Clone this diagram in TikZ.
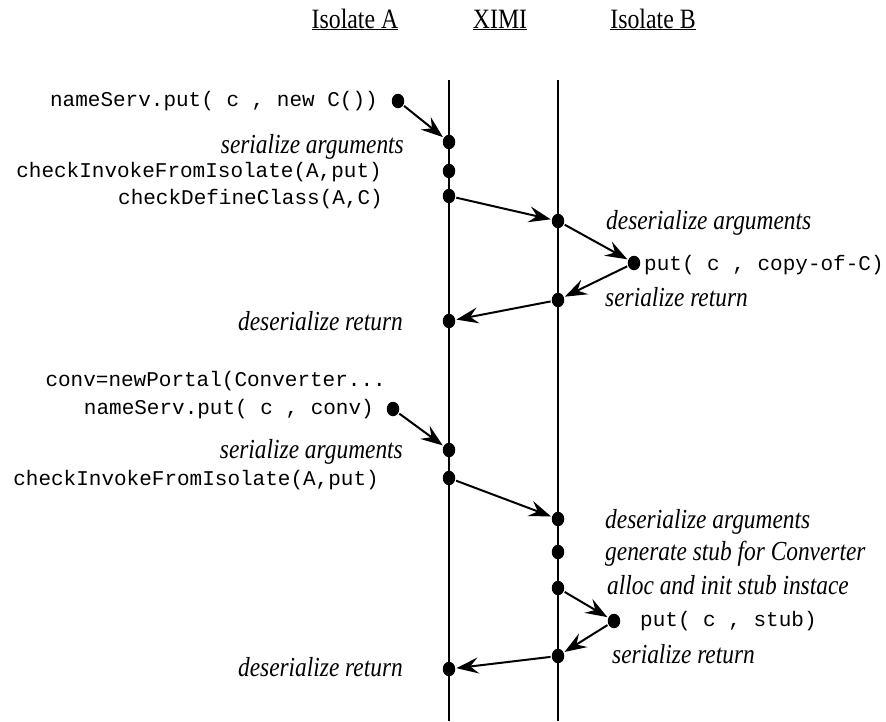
\documentclass[tikz,border=0pt]{standalone}
\usepackage{fontspec}
\usepackage{graphicx}
\setmainfont{Liberation Serif}
\setmonofont{Liberation Mono}
\usetikzlibrary{arrows.meta,shapes.geometric}
\newcommand\sqz[1]{\scalebox{0.85}[1]{#1}}
\begin{document}
\begin{tikzpicture}[x=1pt,y=-1pt,
 dot/.style={ellipse,fill=black,inner sep=0pt,minimum width=12.5pt,minimum height=14.5pt},
 code/.style={font=\fontsize{21}{24}\selectfont\ttfamily,inner sep=0pt},
 lab/.style={font=\fontsize{27.5}{30}\selectfont\itshape,inner sep=0pt},
 head/.style={font=\fontsize{28}{30}\selectfont,inner sep=0pt},
 msg/.style={line width=2pt,-{Stealth[length=22pt,width=16pt,inset=8pt]},shorten >=1pt,shorten <=1pt},
 life/.style={line width=2pt}]
\useasboundingbox (0,0) rectangle (886,721);
% headers
\node[head,anchor=base] (hA) at (355,28) {\sqz{\underline{Isolate A}}};
\node[head,anchor=base] (hX) at (500,28) {\sqz{\underline{XIMI}}};
\node[head,anchor=base] (hB) at (653,28) {\sqz{\underline{Isolate B}}};
% lifelines
\coordinate (xt) at (449,80); \coordinate (xb) at (449,721);
\coordinate (bt) at (558,80); \coordinate (bb) at (558,721);
\draw[life] (xt) -- (xb);
\draw[life] (bt) -- (bb);
% first call
\node[dot] (a1) at (398,101) {};
\node[code,anchor=mid east] (t1) at (378,104) {nameServ.put( c , new C())};
\node[dot] (x1) at (449,142) {};
\node[lab,anchor=mid east] (t2) at (404,151) {\sqz{serialize arguments}};
\node[dot] (x2) at (449,171) {};
\node[code,anchor=mid east] (t3) at (382,175) {checkInvokeFromIsolate(A,put)};
\node[dot] (x3) at (449,196) {};
\node[code,anchor=mid east] (t4) at (383,202) {checkDefineClass(A,C)};
\node[dot] (b1) at (558,221) {};
\node[lab,anchor=mid west] (t5) at (606,227) {\sqz{deserialize arguments}};
\node[dot] (p1) at (634,263) {};
\node[code,anchor=mid west] (t6) at (644,268) {put( c , copy-of-C)};
\node[dot] (b2) at (558,300) {};
\node[lab,anchor=mid west] (t7) at (605,304) {\sqz{serialize return}};
\node[dot] (x4) at (449,321) {};
\node[lab,anchor=mid east] (t8) at (403,328) {\sqz{deserialize return}};
\draw[msg] (a1) -- (x1);
\draw[msg] (x3) -- (b1);
\draw[msg] (b1) -- (p1);
\draw[msg] (p1) -- (b2);
\draw[msg] (b2) -- (x4);
% second call
\node[code,anchor=mid east] (t9) at (386,384) {conv=newPortal(Converter...};
\node[dot] (a2) at (393,409) {};
\node[code,anchor=mid east] (t10) at (374,412) {nameServ.put( c , conv)};
\node[dot] (x5) at (449,450) {};
\node[lab,anchor=mid east] (t11) at (403,456) {\sqz{serialize arguments}};
\node[dot] (x6) at (449,478) {};
\node[code,anchor=mid east] (t12) at (379,483) {checkInvokeFromIsolate(A,put)};
\node[dot] (b3) at (558,519) {};
\node[lab,anchor=mid west] (t13) at (605,526) {\sqz{deserialize arguments}};
\node[dot] (b4) at (558,552) {};
\node[lab,anchor=mid west] (t14) at (605,558) {\sqz{generate stub for Converter}};
\node[dot] (b5) at (558,588) {};
\node[lab,anchor=mid west] (t15) at (607,592) {\sqz{alloc and init stub instace}};
\node[dot] (p2) at (614,621) {};
\node[code,anchor=mid west] (t16) at (640,624) {put( c , stub)};
\node[dot] (b6) at (558,656) {};
\node[lab,anchor=mid west] (t17) at (612,661) {\sqz{serialize return}};
\node[dot] (x7) at (449,669) {};
\node[lab,anchor=mid east] (t18) at (403,674) {\sqz{deserialize return}};
\draw[msg] (a2) -- (x5);
\draw[msg] (x6) -- (b3);
\draw[msg] (b5) -- (p2);
\draw[msg] (p2) -- (b6);
\draw[msg] (b6) -- (x7);
\end{tikzpicture}
\end{document}
